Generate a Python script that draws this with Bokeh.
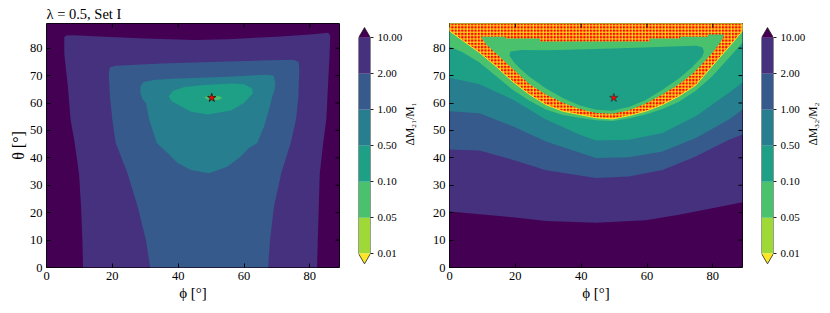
import math
from bokeh.plotting import figure
from bokeh.layouts import row
from bokeh.models import Range1d, FixedTicker
from bokeh.embed import file_html
from bokeh.resources import INLINE

# ---------------- data ----------------
PHI_MAX = 89.0
THETA_MAX = 89.0
x_ticks = [0, 20, 40, 60, 80]
y_ticks = [0, 10, 20, 30, 40, 50, 60, 70, 80]

levels = [0.01, 0.05, 0.1, 0.5, 1, 2, 10]
level_labels = ["0.01", "0.05", "0.10", "0.50", "1.00", "2.00", "10.00"]
# under 0.01, 0.01-0.05, 0.05-0.1, 0.1-0.5, 0.5-1, 1-2, 2-10, over 10
band_colors = ["#FDE724", "#9FD938", "#49C16D", "#1EA087", "#277E8E", "#365A8C", "#46317E", "#440154"]

best_fit = {"phi": [50.2], "theta": [61.9]}
best_fit_r = {"phi": [49.9], "theta": [61.9]}

# Left panel (Delta M21 / M1) contour regions, nested
L_2_10_phi = [5.4, 5.4, 6.5, 7.3, 8.5, 9.9, 10.5, 10.9, 11.1, 82.2, 82.4, 82.7, 83.0, 84.0, 85.0, 85.5,
              86.0, 86.2, 85.6, 80.0, 70.0, 55.0, 45.0, 30.0, 19.6, 8.0, 6.0]
L_2_10_theta = [84.0, 78.0, 66.0, 54.0, 46.0, 34.0, 22.0, 10.0, 0.0, 0.0, 10.0, 22.0, 34.0, 45.0, 54.0, 66.0,
                78.0, 84.5, 85.6, 85.0, 84.2, 83.3, 83.0, 83.5, 84.1, 84.7, 84.6]
L_1_2_phi = [31.5, 30.2, 27.7, 24.6, 21.0, 20.0, 19.3, 18.9, 19.3, 21.0, 35.0, 50.0, 65.0, 75.0, 76.6, 76.8,
             76.5, 75.8, 74.2, 71.3, 69.1, 67.9, 67.3]
L_1_2_theta = [0.0, 10.0, 22.2, 34.4, 45.5, 54.0, 62.0, 70.8, 73.0, 73.6, 74.4, 75.0, 75.5, 75.8, 75.0, 72.0,
               62.0, 54.0, 45.5, 34.4, 22.2, 10.0, 0.0]
L_05_1_phi = [28.6, 29.5, 33.0, 40.0, 55.0, 66.0, 69.0, 69.5, 69.3, 68.6, 67.6, 66.1, 64.0, 61.5, 59.0, 55.0,
              49.4, 43.9, 39.8, 36.8, 33.5, 31.2, 30.2, 29.2, 28.5]
L_05_1_theta = [66.2, 67.7, 68.5, 68.9, 69.6, 70.3, 70.0, 67.5, 64.9, 62.5, 57.6, 51.5, 45.4, 43.6, 40.5, 36.8,
                34.4, 35.6, 38.1, 41.8, 45.4, 54.0, 60.0, 61.3, 63.7]
L_01_05_phi = [37.1, 38.5, 42.0, 47.0, 56.0, 60.0, 62.5, 62.6, 60.0, 56.0, 49.0, 44.0, 41.2, 38.0]
L_01_05_theta = [62.5, 64.5, 65.8, 66.5, 67.1, 66.8, 65.3, 63.5, 60.0, 57.3, 55.8, 56.8, 58.5, 60.6]
L_005_01_phi = [47.9, 48.8, 50.5, 52.5, 53.4, 52.5, 50.5, 48.8]
L_005_01_theta = [62.0, 62.6, 62.8, 62.5, 61.9, 61.2, 61.0, 61.3]

# Right panel (Delta M32 / M2) contour boundaries (region lies above each curve)
R_2_10_phi = [0.0, 19.2, 29.3, 44.5, 59.6, 69.7, 79.8, 89.0]
R_2_10_theta = [20.4, 18.3, 17.0, 16.3, 17.2, 19.2, 21.6, 23.8]
R_1_2_phi = [0.0, 9.1, 19.2, 29.3, 44.5, 54.5, 64.7, 74.8, 84.9, 89.0]
R_1_2_theta = [43.0, 42.7, 39.3, 35.5, 32.6, 33.2, 35.6, 40.5, 46.6, 48.5]
R_05_1_phi = [0.0, 9.1, 19.2, 29.3, 44.5, 54.5, 64.7, 74.8, 84.9, 89.0]
R_05_1_theta = [57.0, 56.3, 51.5, 46.0, 39.9, 40.2, 42.3, 47.2, 54.0, 57.6]
R_01_05_phi = [0.0, 9.1, 19.2, 29.3, 39.4, 44.5, 54.5, 64.7, 74.8, 84.9, 89.0]
R_01_05_theta = [69.2, 66.8, 61.3, 54.0, 48.5, 46.3, 46.6, 49.1, 55.2, 63.7, 67.5]
R_005_01_phi = [0.0, 4.0, 9.1, 14.2, 19.2, 24.3, 29.3, 34.4, 39.4, 44.5, 49.5, 54.6, 59.6, 64.7, 69.7, 74.8,
                79.8, 84.9, 89.0]
R_005_01_theta = [80.5, 78.5, 74.8, 69.8, 64.8, 60.8, 57.6, 55.6, 54.6, 53.7, 53.4, 54.4, 55.8, 57.8, 60.5,
                  64.5, 69.8, 76.5, 82.0]
# under-0.01 band (red grid markers), outer edge
R_under_phi = [0.0, 4.0, 9.1, 14.2, 19.2, 24.3, 29.3, 34.4, 39.4, 44.5, 49.5, 54.5, 59.6, 64.7, 69.7, 74.8,
               79.8, 84.9, 89.0]
R_under_theta = [86.3, 82.8, 78.4, 73.3, 67.8, 63.1, 59.4, 57.0, 55.8, 54.6, 54.2, 55.4, 57.0, 59.4, 62.5,
                 66.5, 73.5, 80.5, 86.3]
# inner rim (0.05-0.1) enclosed by the under-0.01 band: inner edge of band then stepped top edge
R_rim_phi = [9.5, 11.0, 14.2, 19.2, 24.3, 29.3, 34.4, 39.4, 44.5, 49.5, 54.5, 59.6, 64.7, 69.7, 73.7, 77.0,
             80.0, 82.2, 83.5, 83.0, 78.5, 78.5, 70.0, 70.0, 60.8, 60.8, 27.5, 27.5, 17.0, 17.0]
R_rim_theta = [84.2, 81.5, 78.0, 72.5, 66.8, 63.1, 60.1, 57.9, 56.4, 56.1, 57.4, 59.8, 63.1, 66.8, 70.5, 74.5,
               78.5, 82.0, 84.8, 85.0, 85.0, 84.2, 84.2, 83.5, 83.5, 82.4, 82.4, 83.5, 83.5, 84.2]
# inner bowl (0.1-0.5)
R_bowl_phi = [18.5, 22.0, 30.0, 50.0, 70.0, 75.0, 76.8, 77.3, 76.8, 75.2, 73.7, 69.7, 64.7, 59.6, 54.5, 49.5,
              44.5, 39.4, 34.4, 29.3, 24.3, 21.5, 19.5, 18.2]
R_bowl_theta = [78.8, 79.3, 79.2, 79.9, 80.7, 80.9, 80.3, 78.8, 77.0, 75.0, 73.0, 68.9, 64.8, 61.1, 58.5, 57.2,
                57.5, 59.2, 61.8, 65.3, 69.6, 72.5, 75.0, 77.3]

# ---------------- styling helpers ----------------
FONT = "Liberation Serif"
H = 313
FRAME_W = 293
FRAME_H = 244
TICK_PX = 4


def style_axis(ax):
    ax.major_tick_in = TICK_PX
    ax.major_tick_out = 0
    ax.minor_tick_line_color = None
    ax.axis_line_color = None
    ax.major_tick_line_color = "black"
    ax.major_tick_line_width = 1
    ax.major_label_text_font = FONT
    ax.major_label_text_color = "black"
    ax.major_label_text_font_size = "12.5px"
    ax.major_label_standoff = 4
    ax.axis_label_text_font = FONT
    ax.axis_label_text_font_style = "normal"
    ax.axis_label_text_font_size = "15px"
    ax.axis_label_text_color = "black"
    ax.axis_label_standoff = 2


def make_panel(width, bl, br, ylabel, title=None):
    kw = {}
    if title:
        kw["title"] = title
    p = figure(width=width, height=H, x_range=Range1d(0, PHI_MAX), y_range=Range1d(0, THETA_MAX),
               toolbar_location=None, output_backend="svg",
               min_border_left=bl, min_border_right=br, min_border_top=23, min_border_bottom=H - 23 - FRAME_H,
               **kw)
    if title:
        p.title.text_font = FONT
        p.title.text_font_size = "14.5px"
        p.title.text_font_style = "normal"
        p.title.text_color = "black"
        p.title.align = "left"
        p.title.standoff = 4
        p.title.offset = 0
    p.grid.visible = False
    p.outline_line_color = "black"
    p.outline_line_width = 1
    p.xaxis.ticker = FixedTicker(ticks=x_ticks)
    p.yaxis.ticker = FixedTicker(ticks=y_ticks)
    style_axis(p.xaxis[0])
    style_axis(p.yaxis[0])
    p.xaxis.axis_label = "ϕ [°]"
    if ylabel:
        p.yaxis.axis_label = ylabel
        p.yaxis.axis_label_standoff = 0
        p.yaxis.axis_label_text_font_size = "16px"
    # outermost region (> 10)
    p.quad(left=[0], right=[PHI_MAX], bottom=[0], top=[THETA_MAX], fill_color=band_colors[7], line_color=None)
    return p


def add_mirror_ticks(p):
    # inward ticks on the top and right edges
    ty = TICK_PX * THETA_MAX / FRAME_H
    tx = TICK_PX * PHI_MAX / FRAME_W
    p.segment(x0=x_ticks, y0=[THETA_MAX] * len(x_ticks), x1=x_ticks, y1=[THETA_MAX - ty] * len(x_ticks),
              line_color="black", line_width=1)
    p.segment(x0=[PHI_MAX] * len(y_ticks), y0=y_ticks, x1=[PHI_MAX - tx] * len(y_ticks), y1=y_ticks,
              line_color="black", line_width=1)


def above(phi, theta):
    return list(phi) + [PHI_MAX, 0.0], list(theta) + [THETA_MAX, THETA_MAX]


# ---------------- left panel ----------------
p1 = make_panel(350, 46, 11, "θ [°]", title="λ = 0.5, Set I")
for xs, ys, c in [(L_2_10_phi, L_2_10_theta, band_colors[6]),
                  (L_1_2_phi, L_1_2_theta, band_colors[5]),
                  (L_05_1_phi, L_05_1_theta, band_colors[4]),
                  (L_01_05_phi, L_01_05_theta, band_colors[3]),
                  (L_005_01_phi, L_005_01_theta, band_colors[2])]:
    p1.patch(xs, ys, fill_color=c, line_color=None)
p1.scatter(x=best_fit["phi"], y=best_fit["theta"], marker="star", size=9,
           fill_color="red", line_color="#1a1a1a", line_width=0.8)
add_mirror_ticks(p1)

# ---------------- right panel ----------------
p2 = make_panel(327, 24, 10, None)
for (ph, th), c in [(above(R_2_10_phi, R_2_10_theta), band_colors[6]),
                    (above(R_1_2_phi, R_1_2_theta), band_colors[5]),
                    (above(R_05_1_phi, R_05_1_theta), band_colors[4]),
                    (above(R_01_05_phi, R_01_05_theta), band_colors[3]),
                    (above(R_005_01_phi, R_005_01_theta), band_colors[2])]:
    p2.patch(ph, th, fill_color=c, line_color=None)
uph, uth = above(R_under_phi, R_under_theta)
p2.patch(uph, uth, fill_color="#ff0000", hatch_pattern="+", hatch_color=band_colors[0],
         hatch_scale=3.3, hatch_weight=1, line_color=band_colors[0], line_width=1)
p2.patch(R_rim_phi, R_rim_theta, fill_color=band_colors[2], line_color=None)
p2.patch(R_bowl_phi, R_bowl_theta, fill_color=band_colors[3], line_color=None)
p2.scatter(x=best_fit_r["phi"], y=best_fit_r["theta"], marker="star", size=9,
           fill_color="red", line_color="#1a4a40", line_width=0.8)
add_mirror_ticks(p2)


# ---------------- colour bars ----------------
def make_cbar(width, bl, label):
    n = len(levels) - 1
    ext = 0.284
    c = figure(width=width, height=H, x_range=Range1d(0, 1), y_range=Range1d(-0.386, n + 0.397),
               toolbar_location=None, output_backend="svg", y_axis_location="right",
               min_border_left=bl, min_border_right=width - bl - 12, min_border_top=20, min_border_bottom=42)
    c.xaxis.visible = False
    c.grid.visible = False
    c.outline_line_color = None
    idx = list(range(n))
    c.quad(left=0, right=1, bottom=idx, top=[i + 1 for i in idx], fill_color=band_colors[1:-1], line_color=None)
    c.patch([0, 0.5, 1], [0, -ext, 0], fill_color=band_colors[0], line_color=None)
    c.patch([0, 0.5, 1], [n, n + ext, n], fill_color=band_colors[-1], line_color=None)
    c.line([0, 0, 0.5, 1, 1, 0.5, 0], [0, n, n + ext, n, 0, -ext, 0], line_color="#222222", line_width=0.8)
    ax = c.yaxis[0]
    ax.ticker = FixedTicker(ticks=list(range(len(levels))))
    ax.major_label_overrides = {i: lab for i, lab in enumerate(level_labels)}
    ax.major_tick_out = 3
    ax.major_tick_in = 0
    ax.minor_tick_line_color = None
    ax.axis_line_color = None
    ax.major_tick_line_color = "#222222"
    ax.major_label_text_font = FONT
    ax.major_label_text_font_size = "11px"
    ax.major_label_text_color = "black"
    ax.major_label_standoff = 4
    ax.axis_label = label
    ax.axis_label_text_font = FONT
    ax.axis_label_text_font_style = "normal"
    ax.axis_label_text_font_size = "11.5px"
    ax.axis_label_text_color = "black"
    ax.axis_label_standoff = 5
    ax.axis_label_orientation = math.pi / 2
    return c


c1 = make_cbar(75, 8, "ΔM₂₁/M₁")
c2 = make_cbar(78, 9, "ΔM₃₂/M₂")

layout = row(p1, c1, p2, c2)
open("out.html", "w").write(file_html(layout, INLINE))
